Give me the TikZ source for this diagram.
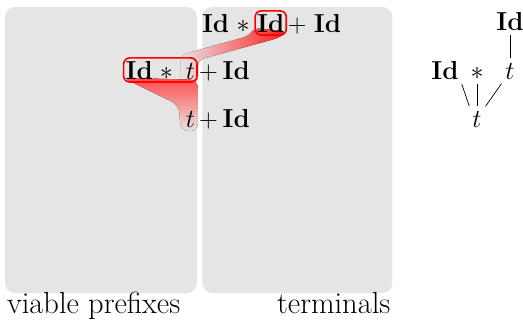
\RequirePackage{fix-cm}
\documentclass[tikz,border=0pt]{standalone}
\usepackage{amsmath}
\usepackage{tikz}
\usetikzlibrary{positioning,fit,calc,backgrounds}

\begin{document}
\begin{tikzpicture}[
    x=1pt, y=-1pt,
    node distance=6pt,
    panel/.style={rectangle, fill=gray!20, rounded corners=10pt, minimum width=#1, minimum height=286pt, inner sep=0pt},
    tok/.style={inner sep=0pt, outer sep=0pt, font=\fontsize{26}{31}\selectfont},
    tnode/.style={inner sep=2pt, anchor=base, font=\fontsize{26}{31}\selectfont},
    lbl/.style={inner sep=0pt, font=\fontsize{30.5}{36}\selectfont},
    hilite/.style={draw=red, line width=1.6pt, rounded corners=6pt, inner xsep=2pt, inner ysep=3pt},
    funnel/.style={draw=none, rounded corners=6pt},
    branch/.style={line width=0.7pt, shorten <=3pt, shorten >=3pt}
]

\useasboundingbox (0,0) rectangle (523,322);

% Panels
\begin{scope}[on background layer]
\node[panel=192pt] (pfx) at (101,150) {};
\node[panel=190pt, right=5pt of pfx] (trm) {};
\end{scope}

% Labels
\node[lbl, anchor=base west] (lblpfx) at ($(pfx.south west)+(2,20)$) {viable prefixes};
\node[lbl, anchor=base east] (lbltrm) at ($(trm.south east)+(-2,20)$) {terminals};

% Row 1
\node[tok, anchor=base west] (r1a) at (202,32) {$\mathbf{Id}$};
\node[tok, base right=7.6pt of r1a] (r1b) {$*$};
\node[tok, base right=7.4pt of r1b] (r1c) {$\mathbf{Id}$};
\node[tok, base right=3.6pt of r1c] (r1d) {$+$};
\node[tok, base right=7.3pt of r1d] (r1e) {$\mathbf{Id}$};

% Row 2
\node[tok, anchor=base east] (r2c) at (195,79) {$t$};
\node[tok, base left=13pt of r2c] (r2b) {$*$};
\node[tok, base left=7pt of r2b] (r2a) {$\mathbf{Id}$};
\node[tok, base right=4pt of r2c] (r2d) {$+$};
\node[tok, base right=5pt of r2d] (r2e) {$\mathbf{Id}$};

% Row 3
\node[tok, anchor=base east] (r3a) at (195,127) {$t$};
\node[tok, base right=4pt of r3a] (r3b) {$+$};
\node[tok, base right=5pt of r3b] (r3c) {$\mathbf{Id}$};

% Highlights
\node[hilite, fit=(r1c)] (hlA) {};
\node[hilite, fit=(r2a)(r2c)] (hlB) {};

\begin{scope}[on background layer]
\fill[funnel, left color=red!8!gray!20, middle color=red!40!white, right color=red!90]
    ($(hlA.south west)+(0,-8)$) -- ($(hlA.south west)+(-5,0)$)
    -- ($(r2c.north west)+(-5,-8)$) -- ($(r2c.south west)+(-5,4)$)
    -- ($(r2c.south east)+(3,4)$) -- ($(r2c.north east)+(3,-3)$)
    -- ($(hlA.south east)+(-8,2)$) -- ($(hlA.south east)+(0,-4)$) -- cycle;
\fill[funnel, rounded corners=8pt, top color=red!70, middle color=red!28!white, bottom color=red!8!gray!20]
    ($(hlB.south west)+(0,-5)$)
    -- ($(r3a.north west)+(-7,-6)$) -- ($(r3a.south west)+(-5,4)$)
    -- ($(r3a.south east)+(3,4)$) -- ($(hlB.south east)+(0,-3)$) -- cycle;
\end{scope}

% Tree
\node[tnode] (root) at (477,127) {$t$};
\node[tnode] (tstar) at (477,79) {$*$};
\node[tnode] (tleft) at (445,79) {$\mathbf{Id}$};
\node[tnode] (tright) at (510,79) {$t$};
\node[tnode] (tid) at (510,30) {$\mathbf{Id}$};

\draw[branch] (root.north west) -- (tleft.south east);
\draw[branch] (root.north) -- (tstar.south);
\draw[branch] (root.north east) -- (tright.south west);
\draw[branch] (tright.north) -- (tid.south);

\end{tikzpicture}
\end{document}
